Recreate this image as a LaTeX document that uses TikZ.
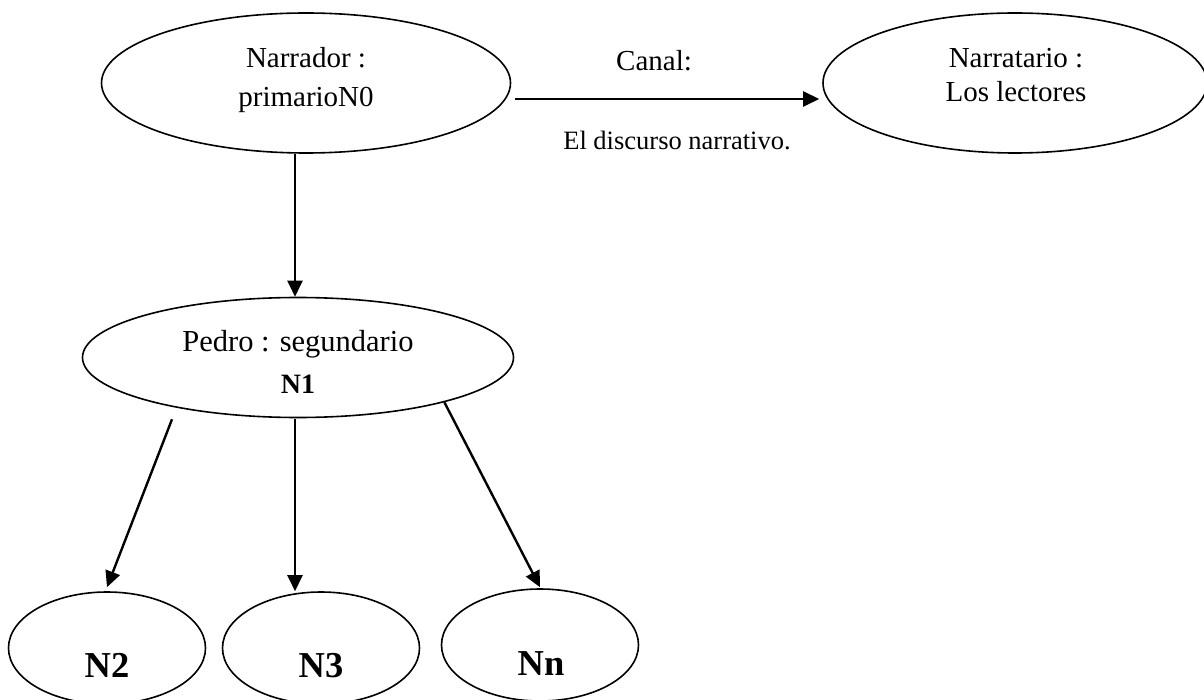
\documentclass[tikz,border=0pt]{standalone}
\usepackage{fontspec}
\setmainfont{Liberation Serif}
\usetikzlibrary{arrows.meta,shapes.geometric}

\begin{document}
\begin{tikzpicture}[x=1pt,y=-1pt,
    elipse/.style={draw,ellipse,line width=1.6pt,inner sep=0pt},
    flecha/.style={line width=2.4pt,-{Triangle[length=16pt,width=15pt]}},
    letra/.style={font=\fontsize{29}{35}\selectfont,anchor=base}]
\useasboundingbox (0,0) rectangle (1204,700);

% elipses
\node[elipse,minimum width=409pt,minimum height=140pt] (nar) at (306,83) {};
\node[elipse,minimum width=384pt,minimum height=140pt] (nrt) at (1015,83) {};
\node[elipse,minimum width=431pt,minimum height=120pt] (ped) at (298,357.5) {};
\foreach \nombre/\x/\y in {n2/107/648, n3/321/648, nn/540/645} {
    \node[elipse,minimum width=197pt,minimum height=112pt] (\nombre) at (\x,\y) {};
}

% textos
\foreach \x/\y/\texto [count=\i] in {
    306/68/{Narrador :},
    306/107/{primarioN0},
    1016/68/{Narratario :},
    1016/102/{Los lectores},
    654/71/{Canal:}} {
    \node[letra] (t\i) at (\x,\y) {\texto};
}
\node[letra,font=\fontsize{26.5}{30}\selectfont] (canal) at (677,150) {El discurso narrativo.};
\node[letra,font=\fontsize{30.5}{36}\selectfont] (tped) at (298,352) {Pedro : segundario};
\node[letra,font=\fontsize{28}{34}\selectfont\bfseries] (tn1) at (298,393) {N1};
\foreach \x/\y/\texto [count=\i] in {107/677/N2, 321/677/N3, 541/675/Nn} {
    \node[letra,font=\fontsize{36.5}{44}\selectfont\bfseries] (b\i) at (\x,\y) {\texto};
}

% flechas
\draw[flecha] ([shift={(4,16)}]nar.east) -- ([shift={(-3,16)}]nrt.west);
\draw[flecha] ([xshift=-11pt]nar.south) -- ([xshift=-3pt]ped.north);
\draw[flecha] ([shift={(-126,1)}]ped.south) -- ([yshift=4pt]n2.north);
\draw[flecha] ([shift={(-3,1)}]ped.south) -- ([xshift=-26pt]n3.north);
\draw[flecha] (ped.-17) -- ([yshift=1pt]nn.north);
\end{tikzpicture}
\end{document}
